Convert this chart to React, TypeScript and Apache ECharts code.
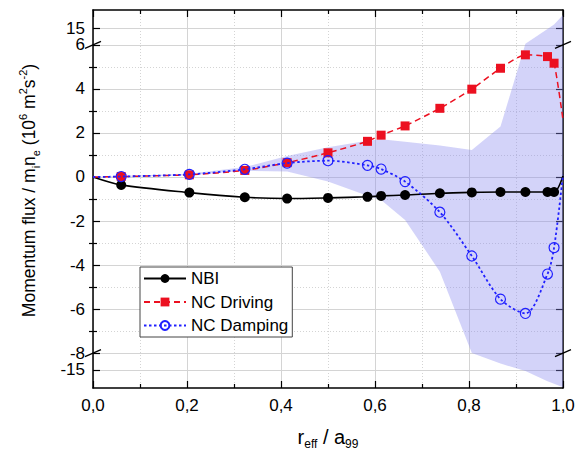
import React, { useEffect, useRef } from "react";
import * as echarts from "echarts";

// ---- data ----
const rEff = [0, 0.06, 0.205, 0.323, 0.413, 0.5, 0.584, 0.613, 0.664, 0.738, 0.806, 0.867, 0.92, 0.967, 0.981, 1.0];
const nbi = [0, -0.36, -0.71, -0.92, -0.98, -0.95, -0.9, -0.86, -0.82, -0.74, -0.7, -0.68, -0.68, -0.68, -0.68, 0.05];
const ncDriving = [0, 0.02, 0.1, 0.3, 0.65, 1.1, 1.62, 1.9, 2.32, 3.12, 3.99, 4.94, 5.55, 5.47, 5.17, 2.6];
const ncDamping = [0, 0.02, 0.12, 0.35, 0.63, 0.74, 0.53, 0.36, -0.21, -1.6, -3.59, -5.55, -6.2, -4.41, -3.21, 0.1];
const bandLow = [0, 0, 0.08, 0.28, 0.25, -0.2, -0.85, -1.05, -1.95, -4.3, -10.3, -13.2, -15.3, -18.1, -18.8, -19.8];
const bandHigh = [0, 0.05, 0.15, 0.45, 0.95, 1.35, 1.65, 1.72, 1.6, 1.43, 1.23, 2.29, 10.6, 14.7, 16.0, 18.6];
const yMajorTicks = [15, 6, 4, 2, 0, -2, -4, -6, -8, -15];
const yMinorTicks = [5, 3, 1, -1, -3, -5, -7];
const legendNames = ["NBI", "NC Driving", "NC Damping"];

// ---- broken y-axis mapping ----
const BREAK_HI = 6;
const BREAK_LO = -8;
const JUMP = 10.3;
const K = 0.1636;
const disp = (v: number) => {
  if (v > BREAK_HI) return BREAK_HI + (v - JUMP) * K;
  if (v < BREAK_LO) return BREAK_LO + (v + JUMP) * K;
  return v;
};
const Y_MIN = disp(-20);
const Y_MAX = disp(20);

const FONT = "Liberation Sans, Arial, sans-serif";

function toSeries(vals: number[]) {
  return rEff.map((x, i) => {
    const item: any = { value: [x, disp(vals[i])] };
    if (i === 0 || i === rEff.length - 1) item.symbol = "none";
    return item;
  });
}

export default function App() {
  const ref = useRef<HTMLDivElement>(null);
  useEffect(() => {
    document.body.style.margin = "0";
    const chart = echarts.init(ref.current!, null, { renderer: "svg" });
    const labelFor = (v: number) => {
      const t = yMajorTicks.find((m) => Math.abs(disp(m) - v) < 1e-6);
      return t === undefined ? "" : String(t);
    };
    const axisLineStyle = { color: "#000", width: 1.5 };
    const richX = {
      n: { fontSize: 20, fontFamily: FONT, color: "#000", lineHeight: 26 },
      sub: { fontSize: 12, fontFamily: FONT, color: "#000", lineHeight: 12, verticalAlign: "bottom" },
    };
    const richY = {
      n: { fontSize: 17.5, fontFamily: FONT, color: "#000", lineHeight: 24 },
      sub: { fontSize: 11, fontFamily: FONT, color: "#000", lineHeight: 11, verticalAlign: "bottom" },
      sup: { fontSize: 11, fontFamily: FONT, color: "#000", lineHeight: 11, verticalAlign: "top" },
    };
    const majorVals = yMajorTicks.map(disp);
    const minorVals = yMinorTicks.map(disp);
    const baseY = { type: "value", min: Y_MIN, max: Y_MAX, scale: true };
    const gridColor = "#d4d4d4";
    chart.setOption({
      animation: false,
      grid: { left: 93, right: 17, top: 10, bottom: 67, containLabel: false, outerBoundsMode: "none" },
      legend: {
        data: legendNames,
        orient: "vertical",
        left: 140,
        top: 267,
        itemWidth: 42,
        itemHeight: 11,
        itemGap: 4.5,
        padding: [2, 4, 2, 3],
        borderColor: "#444",
        borderWidth: 1,
        backgroundColor: "#fff",
        borderRadius: 0,
        textStyle: { fontSize: 17, fontFamily: FONT, color: "#000", lineHeight: 19 },
      },
      xAxis: [
        {
          type: "value",
          min: 0,
          max: 1,
          interval: 0.2,
          position: "bottom",
          axisLine: { show: true, onZero: false, lineStyle: axisLineStyle },
          axisTick: { show: true, inside: true, length: 7, lineStyle: { color: "#000", width: 1.2 } },
          minorTick: { show: true, splitNumber: 2, length: 4, lineStyle: { color: "#000", width: 1.2 } },
          splitLine: { show: true, lineStyle: { color: gridColor, width: 1 } },
          minorSplitLine: { show: true, lineStyle: { color: gridColor, width: 1, type: [1, 2] } },
          axisLabel: {
            formatter: (v: number) => v.toFixed(1).replace(".", ","),
            fontSize: 17,
            fontFamily: FONT,
            color: "#000",
            margin: 9,
          },
          name: "{n|r}{sub|eff}{n| / a}{sub|99}",
          nameLocation: "middle",
          nameGap: 36,
          nameTextStyle: { rich: richX },
        },
        {
          type: "value",
          min: 0,
          max: 1,
          interval: 0.2,
          position: "top",
          axisLine: { show: true, onZero: false, lineStyle: axisLineStyle },
          axisTick: { show: true, inside: true, length: 7, lineStyle: { color: "#000", width: 1.2 } },
          minorTick: { show: true, splitNumber: 2, length: 4, lineStyle: { color: "#000", width: 1.2 } },
          splitLine: { show: false },
          axisLabel: { show: false },
        },
      ],
      yAxis: [
        {
          ...baseY,
          position: "left",
          axisLine: { show: true, onZero: false, lineStyle: axisLineStyle },
          axisTick: { show: true, inside: true, length: 7, customValues: majorVals, lineStyle: { color: "#000", width: 1.2 } },
          axisLabel: {
            customValues: majorVals,
            formatter: labelFor,
            fontSize: 17,
            lineHeight: 14,
            fontFamily: FONT,
            color: "#000",
            margin: 8,
          },
          splitLine: { show: true, lineStyle: { color: gridColor, width: 1 } },
          name: "{n|Momentum flux / m}{sub|i}{n|n}{sub|e}{n| (10}{sup|6}{n| m}{sup|2}{n|s}{sup|-2}{n|)}",
          nameLocation: "middle",
          nameGap: 52,
          nameMoveOverlap: false,
          nameTextStyle: { rich: richY, padding: [0, 0, 0, 17] },
        },
        {
          ...baseY,
          position: "left",
          axisLine: { show: false },
          axisTick: { show: true, inside: true, length: 4, customValues: minorVals, lineStyle: { color: "#000", width: 1.2 } },
          axisLabel: { show: false },
          splitLine: { show: true, lineStyle: { color: gridColor, width: 1, type: [1, 2] } },
        },
        {
          ...baseY,
          position: "right",
          axisLine: { show: true, onZero: false, lineStyle: axisLineStyle },
          axisTick: { show: true, inside: true, length: 7, customValues: majorVals, lineStyle: { color: "#000", width: 1.2 } },
          axisLabel: { show: false },
          splitLine: { show: false },
        },
        {
          ...baseY,
          position: "right",
          axisLine: { show: false },
          axisTick: { show: true, inside: true, length: 4, customValues: minorVals, lineStyle: { color: "#000", width: 1.2 } },
          axisLabel: { show: false },
          splitLine: { show: false },
        },
      ],
      series: [
        {
          name: "band",
          type: "custom",
          data: rEff.map((x, i) => [x, disp(bandLow[i]), disp(bandHigh[i])]),
          encode: { x: 0, y: [1, 2] },
          renderItem: (params: any, api: any) => {
            if (params.dataIndex !== 0) return null;
            const upper = rEff.map((x, i) => api.coord([x, disp(bandHigh[i])]));
            const lower = rEff.map((x, i) => api.coord([x, disp(bandLow[i])])).reverse();
            return {
              type: "polygon",
              shape: { points: upper.concat(lower) },
              style: { fill: "rgba(140,140,240,0.38)", stroke: "none" },
            };
          },
          clip: true,
          silent: true,
          z: 1,
        },
        {
          name: "NBI",
          type: "line",
          data: toSeries(nbi),
          smooth: 0.3,
          symbol: "circle",
          symbolSize: 10,
          itemStyle: { color: "#000" },
          lineStyle: { color: "#000", width: 1.6 },
          z: 3,
        },
        {
          name: "NC Driving",
          type: "line",
          data: toSeries(ncDriving),
          smooth: 0.2,
          symbol: "rect",
          symbolSize: 9,
          itemStyle: { color: "#ec1020" },
          lineStyle: { color: "#ec1020", width: 1.5, type: [6, 4] },
          z: 4,
        },
        {
          name: "NC Damping",
          type: "line",
          data: toSeries(ncDamping),
          smooth: 0.3,
          symbol: "circle",
          symbolSize: 10,
          itemStyle: { color: "rgba(255,255,255,0)", borderColor: "#2020ff", borderWidth: 1.2 },
          lineStyle: { color: "#2020ff", width: 1.8, type: [2.5, 2.5] },
          z: 5,
        },
      ],
    });

    // break marks on the y-axes
    const marks: any[] = [];
    [0, 1].forEach((xv) => {
      [BREAK_HI, BREAK_LO].forEach((yv) => {
        const p = chart.convertToPixel({ xAxisIndex: 0, yAxisIndex: 0 }, [xv, disp(yv)]) as number[];
        marks.push({
          type: "line",
          shape: { x1: p[0] - 8, y1: p[1] + 3.5, x2: p[0] + 8, y2: p[1] - 3.5 },
          style: { stroke: "#000", lineWidth: 1.3 },
          z: 100,
        });
      });
    });
    chart.setOption({ graphic: marks });

    return () => chart.dispose();
  }, []);
  return <div ref={ref} style={{ width: 580, height: 455 }} />;
}
